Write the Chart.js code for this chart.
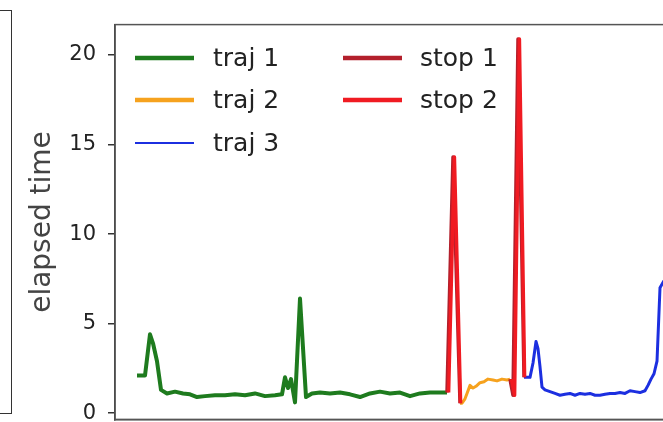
<!DOCTYPE html>
<html>
<head>
<meta charset="utf-8">
<script src="https://cdn.jsdelivr.net/npm/chart.js@4/dist/chart.umd.min.js"></script>
<style>
  html, body { margin: 0; padding: 0; background: #fff; overflow: hidden; }
  #wrap { position: relative; width: 663px; height: 422px; overflow: hidden; }
  #prevBox { position: absolute; left: -2px; top: 10px; width: 13px; height: 402px;
             border: 1.5px solid #333; border-left: none; }
  #chart { position: absolute; left: 0; top: 0; }
</style>
</head>
<body>
<div id="wrap">
  <div id="prevBox"></div>
  <canvas id="chart" width="720" height="444"></canvas>
</div>
<script>
// step index along the run, and elapsed time per step
const traj1X = [0, 4, 6.5, 8, 10, 12, 15, 19, 23, 26.5, 30, 34, 39, 44, 49, 54, 59, 64, 69, 72.5, 74, 75.5, 77, 79, 81.5, 84.5, 87.5, 91.5, 96.5, 101.5, 106.5, 111.5, 116.5, 121.5, 126.5, 131.5, 136.5, 141.5, 146.5, 155];
const traj1Y = [2.1, 2.1, 4.4, 3.9, 2.9, 1.3, 1.1, 1.2, 1.1, 1.05, 0.9, 0.95, 1.0, 1.0, 1.05, 1.0, 1.1, 0.95, 1.0, 1.05, 2.0, 1.4, 1.9, 0.6, 6.4, 0.9, 1.1, 1.15, 1.1, 1.15, 1.05, 0.9, 1.1, 1.2, 1.1, 1.15, 0.95, 1.1, 1.15, 1.15];

const traj2X = [161.5, 162.5, 164, 165, 166.5, 168, 169.5, 171.5, 173.5, 175.5, 178, 180, 182.5, 185, 186.5];
const traj2Y = [0.55, 0.55, 0.8, 1.1, 1.55, 1.4, 1.5, 1.7, 1.75, 1.9, 1.85, 1.8, 1.9, 1.85, 1.9];

const traj3X = [193.5, 196.5, 198, 199.5, 200.5, 201.5, 202.5, 204, 206.5, 209, 211.5, 214, 216.5, 219, 221.5, 224, 226.5, 229, 231.5, 234, 236.5, 239, 241.5, 244, 246.5, 249, 251.5, 254, 255.5, 257, 258.5, 260, 261.5, 263.5];
const traj3Y = [2.0, 2.0, 2.8, 4.0, 3.6, 2.6, 1.45, 1.3, 1.2, 1.1, 1.0, 1.05, 1.1, 1.0, 1.1, 1.05, 1.1, 1.0, 1.0, 1.05, 1.1, 1.1, 1.15, 1.1, 1.25, 1.2, 1.15, 1.25, 1.55, 1.9, 2.2, 2.9, 7.0, 7.4];

const stop1X = [155, 158, 161.5, null, 186.5, 188, 190.5, 193.5];
const stop1Y = [1.15, 14.3, 0.55, null, 1.9, 1.0, 20.9, 2.0];
const stop2X = [155.8, 158.7, 161.8, null, 187.2, 188.8, 191.2, 193.8];
const stop2Y = [1.15, 14.3, 0.55, null, 1.9, 1.0, 20.9, 2.0];

const yTicks = [0, 5, 10, 15, 20];

function pts(xs, ys) {
  return xs.map((x, i) => ({ x: x === null ? NaN : x, y: ys[i] }));
}

// legend drawn inside the plot, two columns like the matplotlib one
const innerLegend = {
  id: 'innerLegend',
  afterDraw(chart, args, opts) {
    const ctx = chart.ctx;
    ctx.save();
    ctx.font = opts.font;
    ctx.textBaseline = 'middle';
    chart.data.datasets.forEach((ds) => {
      const col = opts.columns[ds.legendCol];
      const y = opts.rowY[ds.legendRow];
      ctx.strokeStyle = ds.borderColor;
      ctx.lineWidth = ds.legendWidth;
      ctx.beginPath();
      ctx.moveTo(col.x0, y);
      ctx.lineTo(col.x1, y);
      ctx.stroke();
      ctx.fillStyle = '#222';
      ctx.fillText(ds.label, col.tx, y + 1);
    });
    ctx.restore();
  }
};

const frame = {
  id: 'frame',
  afterDraw(chart) {
    const { ctx, chartArea } = chart;
    ctx.save();
    ctx.strokeStyle = '#555';
    ctx.lineWidth = 1.5;
    ctx.strokeRect(chartArea.left, chartArea.top, chartArea.right - chartArea.left, chartArea.bottom - chartArea.top);
    ctx.restore();
  }
};

new Chart(document.getElementById('chart'), {
  type: 'line',
  data: {
    datasets: [
      { label: 'traj 1', data: pts(traj1X, traj1Y), borderColor: '#1e7b1e', borderWidth: 4, legendWidth: 4.5, legendCol: 0, legendRow: 0, order: 3 },
      { label: 'traj 2', data: pts(traj2X, traj2Y), borderColor: '#f6a21e', borderWidth: 3, legendWidth: 4.5, legendCol: 0, legendRow: 1, order: 3 },
      { label: 'traj 3', data: pts(traj3X, traj3Y), borderColor: '#1c2fe0', borderWidth: 3, legendWidth: 1.8, legendCol: 0, legendRow: 2, order: 3 },
      { label: 'stop 1', data: pts(stop1X, stop1Y), borderColor: '#b3202c', borderWidth: 3.5, legendWidth: 4.5, legendCol: 1, legendRow: 0, order: 2 },
      { label: 'stop 2', data: pts(stop2X, stop2Y), borderColor: '#f01b22', borderWidth: 3.5, legendWidth: 4.5, legendCol: 1, legendRow: 1, order: 1 }
    ]
  },
  options: {
    responsive: false,
    animation: false,
    events: [],
    elements: {
      point: { radius: 0 },
      line: { tension: 0, borderJoinStyle: 'round', fill: false }
    },
    spanGaps: false,
    layout: { padding: { left: 0, top: 18, right: 0, bottom: 3 } },
    scales: {
      x: {
        type: 'linear',
        min: -11,
        max: 291.5,
        ticks: { display: false },
        grid: { display: false, drawTicks: false },
        border: { display: true, color: '#555', width: 1.5 },
        afterFit: (scale) => { scale.height = 0; }
      },
      y: {
        min: -0.35,
        max: 21.7,
        afterBuildTicks: (scale) => { scale.ticks = yTicks.map(v => ({ value: v })); },
        ticks: {
          color: '#222',
          padding: 12,
          font: { family: 'DejaVu Sans', size: 21 }
        },
        grid: { drawOnChartArea: false, drawTicks: true, tickLength: 7, color: '#333', lineWidth: 1.5 },
        border: { display: true, color: '#333', width: 1.5 },
        title: {
          display: true,
          text: 'elapsed time',
          color: '#444',
          font: { family: 'DejaVu Sans', size: 28 },
          padding: { top: 26, bottom: 0 }
        },
        afterFit: (scale) => { scale.width = 115; }
      }
    },
    plugins: {
      legend: { display: false },
      tooltip: { enabled: false },
      innerLegend: {
        font: '25px "DejaVu Sans"',
        rowY: [58, 100, 143],
        columns: [
          { x0: 135, x1: 194, tx: 213 },
          { x0: 343, x1: 402, tx: 420 }
        ]
      }
    }
  },
  plugins: [innerLegend, frame]
});
</script>
</body>
</html>
